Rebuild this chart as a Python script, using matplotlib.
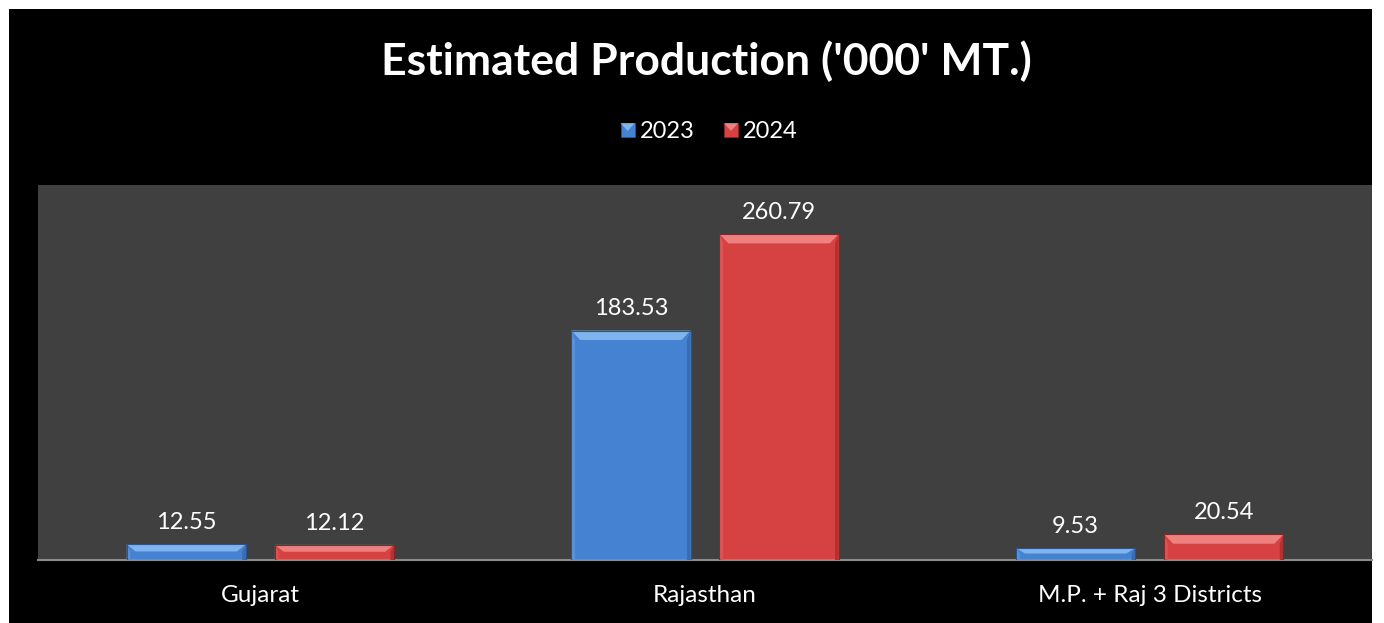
import matplotlib
matplotlib.use("Agg")
import matplotlib.pyplot as plt
from matplotlib.patches import Polygon, Rectangle
from matplotlib.legend_handler import HandlerBase
import numpy as np

categories = ["Gujarat", "Rajasthan", "M.P. + Raj 3 Districts"]
series_names = ["2023", "2024"]
values_2023 = [12.55, 183.53, 9.53]
values_2024 = [12.12, 260.79, 20.54]
labels_2023 = ["12.55", "183.53", "9.53"]
labels_2024 = ["12.12", "260.79", "20.54"]

FONT = ["Lato", "DejaVu Sans"]
plt.rcParams['font.family'] = FONT

W, H, DPI = 1384, 623, 100
fig = plt.figure(figsize=(W / DPI, H / DPI), dpi=DPI)
fig.patch.set_facecolor("white")
# black chart area
bg = fig.add_axes([9 / W, 0, (1372 - 9) / W, (623 - 9) / H], zorder=-5)
bg.set_facecolor("black")
bg.set_xticks([]); bg.set_yticks([])
for s in bg.spines.values():
    s.set_visible(False)

ax = fig.add_axes([38 / W, (H - 560) / H, (1372 - 38) / W, (560 - 185) / H], zorder=1)
ax.set_facecolor("#404040")
ax.set_xlim(-0.5, 2.5)
ax.set_ylim(0, 300)

bw = 0.268
off = bw / 2 + 0.0326
x = np.arange(len(categories))

styles = {
    "2023": dict(body="#4682d2", top="#80b4ef", side_l="#5893dc", side_r="#3a6cae", bot="#2c5590"),
    "2024": dict(body="#d64242", top="#f07f7f", side_l="#de5454", side_r="#b23232", bot="#8a2626"),
}

def beveled(ax, xc, h, st):
    bars = ax.bar(xc, h, width=bw, color=st["body"], edgecolor="none", zorder=2)
    for rect in bars:
        x0 = rect.get_x(); x1 = x0 + rect.get_width(); y1 = rect.get_height()
        dx = 0.02
        dy = min(7.5, y1 / 2.2)
        ax.add_patch(Polygon([(x0, y1), (x1, y1), (x1 - dx, y1 - dy), (x0 + dx, y1 - dy)],
                             closed=True, facecolor=st["top"], edgecolor="none", zorder=3))
        ax.add_patch(Polygon([(x0, y1), (x0 + dx * 0.4, y1 - dy), (x0 + dx * 0.4, 0), (x0, 0)],
                             closed=True, facecolor=st["side_l"], edgecolor="none", zorder=3))
        ax.add_patch(Polygon([(x1, y1), (x1 - dx * 0.4, y1 - dy), (x1 - dx * 0.4, 0), (x1, 0)],
                             closed=True, facecolor=st["side_r"], edgecolor="none", zorder=3))
        ax.add_patch(Rectangle((x0, 0), x1 - x0, y1, facecolor="none",
                               edgecolor=st["bot"], linewidth=0.8, zorder=4))
    return bars

beveled(ax, x - off, values_2023, styles["2023"])
beveled(ax, x + off, values_2024, styles["2024"])

for xi, v, lab in zip(x - off, values_2023, labels_2023):
    ax.annotate(lab, (xi, v), xytext=(0, 8), textcoords="offset points",
                ha="center", va="bottom", color="white", fontsize=17)
for xi, v, lab in zip(x + off, values_2024, labels_2024):
    ax.annotate(lab, (xi, v), xytext=(0, 8), textcoords="offset points",
                ha="center", va="bottom", color="white", fontsize=17)

ax.set_xticks(x)
ax.set_xticklabels(categories, color="white", fontsize=17.5)
ax.tick_params(axis="x", length=0, pad=18)
ax.set_yticks([])
for s in ["top", "left", "right"]:
    ax.spines[s].set_visible(False)
ax.spines["bottom"].set_color("#8c8c8c")
ax.spines["bottom"].set_linewidth(1.5)

fig.text(706 / W, (H - 61) / H, "Estimated Production ('000' MT.)", ha="center", va="center",
         color="white", fontsize=32, fontweight="bold")

class BevelHandler(HandlerBase):
    def __init__(self, st):
        super().__init__()
        self.st = st
    def create_artists(self, legend, orig_handle, xdescent, ydescent, width, height, fontsize, trans):
        s = min(width, height) * 0.85
        x0 = -xdescent + width - s
        y0 = -ydescent + (height - s) / 2
        st = self.st
        arts = []
        arts.append(Rectangle((x0, y0), s, s, facecolor=st["body"], edgecolor=st["bot"], lw=0.6, transform=trans))
        arts.append(Polygon([(x0, y0 + s), (x0 + s, y0 + s), (x0 + s * 0.5, y0 + s * 0.45)],
                            closed=True, facecolor=st["top"], edgecolor="none", transform=trans))
        return arts

h1 = Rectangle((0, 0), 1, 1)
h2 = Rectangle((0, 0), 1, 1)
leg = fig.legend([h1, h2], series_names, loc="center", bbox_to_anchor=(706 / W, (H - 132) / H),
                 ncol=2, frameon=False, fontsize=17, labelcolor="white",
                 handler_map={h1: BevelHandler(styles["2023"]), h2: BevelHandler(styles["2024"])},
                 handlelength=0.85, handletextpad=0.2, columnspacing=1.0)

fig.savefig("out.png", dpi=DPI, facecolor=fig.get_facecolor())
